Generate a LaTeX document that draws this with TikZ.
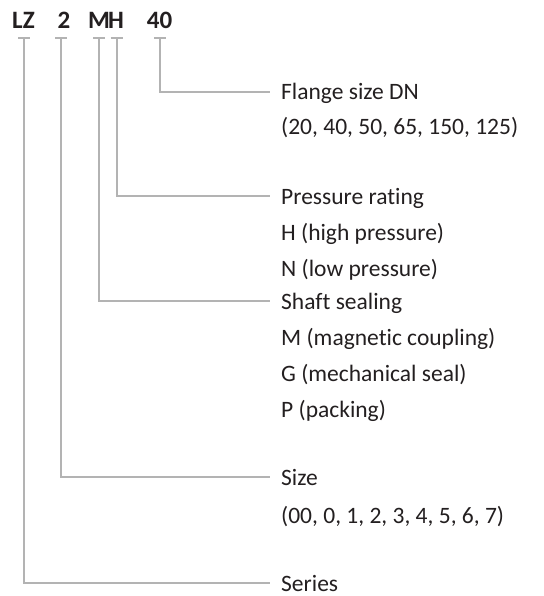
\documentclass[tikz,border=0pt]{standalone}
\usepackage{fontspec}
\setmainfont{Carlito}[Ligatures={NoCommon}]
\usetikzlibrary{positioning}
\definecolor{conn}{HTML}{B3B3B3}
\definecolor{txt}{HTML}{231F20}
\tikzset{
  conline/.style={draw=conn, line width=1.8pt},
  codepart/.style={font=\fontsize{25}{25}\selectfont\bfseries, text=txt, inner sep=0pt, anchor=base},
  headlbl/.style={font=\fontsize{23.5}{23.5}\selectfont, text=txt, anchor=west, inner xsep=11pt, inner ysep=0pt, text height=16pt, text depth=0pt},
  sublbl/.style={font=\fontsize{23.5}{23.5}\selectfont, text=txt, anchor=base west, inner sep=0pt}
}
\begin{document}
\begin{tikzpicture}[x=1pt,y=-1pt]
\useasboundingbox (0,0) rectangle (543,596);
% code parts
\node[codepart] (lz) at (23.5,29) {LZ};
\node[codepart] (sz) at (64,29) {2};
\node[codepart] (m) at (99,29) {M};
\node[codepart] (h) at (116,29) {H};
\node[codepart] (dn) at (159.5,29) {40};
% cap coordinates
\coordinate (clz) at (24,38);
\coordinate (csz) at (61.3,38);
\coordinate (cm) at (99,38);
\coordinate (ch) at (116.7,38);
\coordinate (cdn) at (160,38);
% labels
\node[headlbl] (flange) at (270,92) {Flange size DN};
\node[sublbl] (flange2) at (281,135) {(20, 40, 50, 65, 150, 125)};
\node[headlbl] (press) at (270,196) {Pressure rating};
\node[sublbl] (press2) at (281,240) {H (high pressure)};
\node[sublbl] (press3) at (281,276) {N (low pressure)};
\node[headlbl] (shaft) at (270,301) {Shaft sealing};
\node[sublbl] (shaft2) at (281,345) {M (magnetic coupling)};
\node[sublbl] (shaft3) at (281,381) {G (mechanical seal)};
\node[sublbl] (shaft4) at (281,417) {P (packing)};
\node[headlbl] (size) at (270,477) {Size};
\node[sublbl] (size2) at (281,523) {(00, 0, 1, 2, 3, 4, 5, 6, 7)};
\node[headlbl] (series) at (270,583) {Series};
% caps
\foreach \c in {clz,csz,cm,ch,cdn}{
  \draw[conline] ([xshift=-6pt]\c) -- ([xshift=6pt]\c);
}
% connectors
\draw[conline] (cdn) |- (flange.west);
\draw[conline] (ch) |- (press.west);
\draw[conline] (cm) |- (shaft.west);
\draw[conline] (csz) |- (size.west);
\draw[conline] (clz) |- (series.west);
\end{tikzpicture}
\end{document}
